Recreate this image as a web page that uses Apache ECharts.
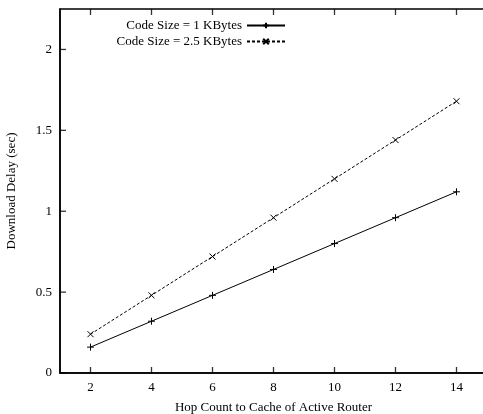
<!DOCTYPE html>
<html lang="en">
<head>
	<meta charset="UTF-8">
	<title>download delay</title>
	<style>html,body{margin:0;padding:0;background:#fff;}</style>
</head>
<body>
	<div id="demo" style="width: 483px;height:414px;"></div>
	<script src="https://cdn.jsdelivr.net/npm/echarts@6/dist/echarts.min.js"></script>
	<script>
        var hops = [2, 4, 6, 8, 10, 12, 14];
        var delay1k = [0.16, 0.32, 0.48, 0.64, 0.80, 0.96, 1.12];
        var delay25k = [0.24, 0.48, 0.72, 0.96, 1.20, 1.44, 1.68];
        var xTicks = [2, 4, 6, 8, 10, 12, 14];
        var yTicks = [0, 0.5, 1, 1.5, 2];

        var xMin = 1, xMax = 15, yMin = 0, yMax = 2.25;
        var font = 'Liberation Serif';
        var plus = 'path://M0,5L10,5M5,0L5,10';
        var cross = 'path://M0,0L10,10M10,0L0,10';
        var TICK = 6;

        function pairs(xs, ys) {
            return xs.map(function (x, i) { return [x, ys[i]]; });
        }

        function onlyIn(list) {
            return function (v) { return list.indexOf(Math.round(v * 100) / 100) >= 0 ? String(v) : ''; };
        }

        // inward tick marks drawn as small filled rects on the axis values
        function tickSeries(data, size, offset) {
            return {
                type: 'scatter',
                data: data,
                symbol: 'rect',
                symbolSize: size,
                symbolOffset: offset,
                clip: false,
                silent: true,
                z: 5,
                itemStyle: { color: '#000' }
            };
        }

        var myChart = echarts.init(document.getElementById('demo'));

        var option = {
            animation: false,
            grid: {
                left: 60, top: 9, width: 427, height: 364, outerBoundsMode: 'none',
                show: true, borderColor: '#000', borderWidth: 1.5, backgroundColor: 'transparent'
            },
            legend: {
                top: 14,
                right: 192,
                orient: 'vertical',
                align: 'right',
                itemWidth: 38,
                itemHeight: 7,
                itemGap: 3,
                textStyle: { fontFamily: font, fontSize: 13, color: '#000' },
                data: ['Code Size = 1 KBytes', 'Code Size = 2.5 KBytes']
            },
            xAxis: {
                type: 'value',
                min: xMin,
                max: xMax,
                interval: 1,
                name: 'Hop Count to Cache of Active Router',
                nameLocation: 'middle',
                nameGap: 28,
                nameTextStyle: { fontFamily: font, fontSize: 13, color: '#000' },
                axisLine: { lineStyle: { color: '#000', width: 1.5 } },
                axisTick: { show: false },
                axisLabel: { formatter: onlyIn(xTicks), fontFamily: font, fontSize: 13, color: '#000', margin: 8 },
                splitLine: { show: false }
            },
            yAxis: {
                type: 'value',
                min: yMin,
                max: yMax,
                interval: 0.5,
                name: 'Download Delay (sec)',
                nameLocation: 'middle',
                nameGap: 42,
                nameTextStyle: { fontFamily: font, fontSize: 13, color: '#000' },
                axisLine: { show: true, lineStyle: { color: '#000', width: 1.5 } },
                axisTick: { show: false },
                axisLabel: { formatter: onlyIn(yTicks), fontFamily: font, fontSize: 13, color: '#000', margin: 8 },
                splitLine: { show: false }
            },
            series: [{
                name: 'Code Size = 1 KBytes',
                type: 'line',
                data: pairs(hops, delay1k),
                symbol: plus,
                symbolSize: 7,
                showAllSymbol: true,
                lineStyle: { color: '#000', width: 1 },
                itemStyle: { color: '#000', borderColor: '#000', borderWidth: 1 }
            }, {
                name: 'Code Size = 2.5 KBytes',
                type: 'line',
                data: pairs(hops, delay25k),
                symbol: cross,
                symbolSize: 6,
                showAllSymbol: true,
                lineStyle: { color: '#000', width: 1, type: [3, 2] },
                itemStyle: { color: '#000', borderColor: '#000', borderWidth: 1 }
            },
            tickSeries(xTicks.map(function (x) { return [x, yMin]; }), [1.3, TICK], [0, -TICK / 2]),
            tickSeries(xTicks.map(function (x) { return [x, yMax]; }), [1.3, TICK], [0, TICK / 2]),
            tickSeries(yTicks.map(function (y) { return [xMin, y]; }), [TICK, 1.3], [TICK / 2, 0])
            ]
        };

        myChart.setOption(option);
	</script>
</body>
</html>
